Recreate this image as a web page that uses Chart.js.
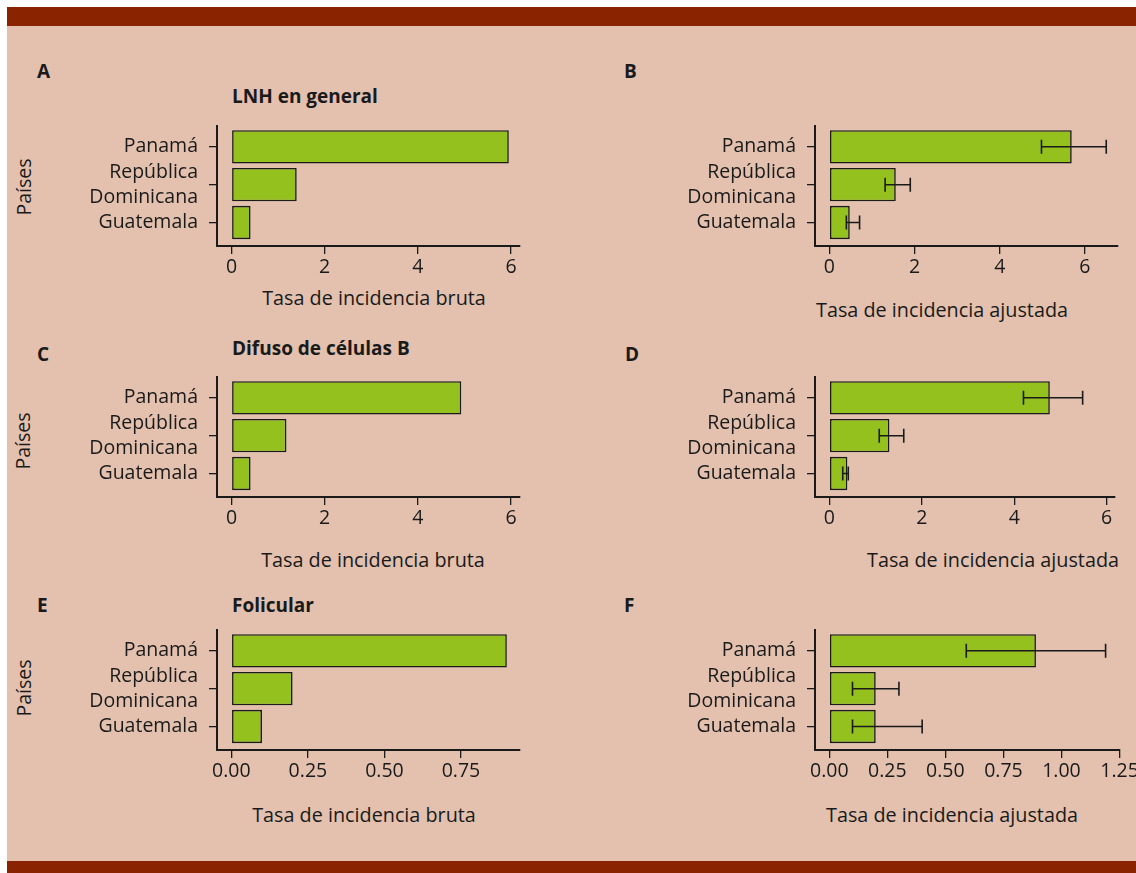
<!DOCTYPE html>
<html lang="es">
<head>
<meta charset="utf-8">
<title>Tasas de incidencia de LNH</title>
<script src="https://cdn.jsdelivr.net/npm/chart.js@4.4.0/dist/chart.umd.min.js"></script>
<style>
  html, body { margin: 0; padding: 0; background: #fff; }
  #fig {
    position: relative; width: 1136px; height: 873px; overflow: hidden;
    font-family: "Open Sans", Lato, sans-serif; color: #1a1a1a;
  }
  #sheet {
    position: absolute; left: 7px; top: 7px; right: 0; bottom: 0;
    background: #e3c1ae;
    border-top: 19px solid #8a2300;
    border-bottom: 12px solid #8a2300;
    box-sizing: border-box;
  }
  .txt {
    position: absolute; white-space: nowrap; line-height: 1;
    font-size: 19.8px; transform: translate(-50%, -50%);
  }
  .lbl { transform: translate(0, -50%); font-weight: 700; font-size: 19px; }
  .rot { transform: translate(-50%, -50%) rotate(-90deg); font-size: 19.5px; }
  canvas { position: absolute; }
</style>
</head>
<body>
<div id="fig">
  <div id="sheet"></div>
</div>
<script>
// countries, top to bottom
const paises = ['Panamá', ['República', 'Dominicana'], 'Guatemala'];

// LNH en general
const brutaGeneral = [5.95, 1.40, 0.41];
const ajustadaGeneral = [5.69, 1.56, 0.48];
const ajustadaGeneralLo = [4.98, 1.31, 0.40];
const ajustadaGeneralHi = [6.50, 1.90, 0.71];

// Difuso de células B
const brutaDifuso = [4.93, 1.18, 0.41];
const ajustadaDifuso = [4.77, 1.30, 0.39];
const ajustadaDifusoLo = [4.20, 1.08, 0.29];
const ajustadaDifusoHi = [5.48, 1.61, 0.41];

// Folicular
const brutaFolicular = [0.90, 0.20, 0.10];
const ajustadaFolicular = [0.89, 0.20, 0.20];
const ajustadaFolicularLo = [0.59, 0.10, 0.10];
const ajustadaFolicularHi = [1.19, 0.30, 0.40];

// x tick values
const ticksTasa = [0, 2, 4, 6];
const ticksFolBruta = [0, 0.25, 0.5, 0.75];
const ticksFolAjustada = [0, 0.25, 0.5, 0.75, 1, 1.25];

const GREEN = '#95c11f';
const INK = '#1a1a1a';
const FONT = { family: '"Open Sans", Lato, sans-serif', size: 19.5 };

// area = [left, top, right, bottom] of each plot panel
const panels = [
  { area: [217, 126, 520, 246], range: [-0.31, 6.19], ticks: ticksTasa, dec: 0, values: brutaGeneral },
  { area: [815, 126, 1118, 246], range: [-0.336, 6.776], ticks: ticksTasa, dec: 0, values: ajustadaGeneral, lo: ajustadaGeneralLo, hi: ajustadaGeneralHi },
  { area: [217, 377, 520, 497], range: [-0.31, 6.19], ticks: ticksTasa, dec: 0, values: brutaDifuso },
  { area: [815, 377, 1115, 497], range: [-0.31, 6.18], ticks: ticksTasa, dec: 0, values: ajustadaDifuso, lo: ajustadaDifusoLo, hi: ajustadaDifusoHi },
  { area: [217, 630, 520, 750], range: [-0.047, 0.943], ticks: ticksFolBruta, dec: 2, values: brutaFolicular },
  { area: [815, 630, 1120, 750], range: [-0.0615, 1.252], ticks: ticksFolAjustada, dec: 2, values: ajustadaFolicular, lo: ajustadaFolicularLo, hi: ajustadaFolicularHi }
];

// text around the panels: [text, x, y, class]
const texts = [
  ['A', 37, 71, 'lbl'], ['B', 624, 71, 'lbl'], ['C', 37, 354, 'lbl'],
  ['D', 625, 354, 'lbl'], ['E', 37, 605, 'lbl'], ['F', 624, 605, 'lbl'],
  ['LNH en general', 232, 96, 'lbl'],
  ['Difuso de células B', 232, 348, 'lbl'],
  ['Folicular', 232, 605, 'lbl'],
  ['Tasa de incidencia bruta', 374, 298, ''],
  ['Tasa de incidencia ajustada', 942, 310, ''],
  ['Tasa de incidencia bruta', 373, 560, ''],
  ['Tasa de incidencia ajustada', 993, 560, ''],
  ['Tasa de incidencia bruta', 364, 815, ''],
  ['Tasa de incidencia ajustada', 952, 815, ''],
  ['Países', 24, 187, 'rot'], ['Países', 23, 441, 'rot'], ['Países', 24, 688, 'rot']
];

const fig = document.getElementById('fig');

texts.forEach(([s, x, y, cls]) => {
  const d = document.createElement('div');
  d.className = 'txt ' + cls;
  d.textContent = s;
  d.style.left = x + 'px';
  d.style.top = y + 'px';
  fig.appendChild(d);
});

function errorBars(lo, hi) {
  return {
    id: 'errorBars',
    afterDatasetsDraw(chart) {
      if (!lo) return;
      const { ctx, scales: { x, y } } = chart;
      ctx.save();
      ctx.strokeStyle = INK;
      ctx.lineWidth = 1.6;
      lo.forEach((v, i) => {
        const yc = y.getPixelForValue(i);
        const x1 = x.getPixelForValue(v);
        const x2 = x.getPixelForValue(hi[i]);
        ctx.beginPath();
        ctx.moveTo(x1, yc); ctx.lineTo(x2, yc);
        ctx.moveTo(x1, yc - 7); ctx.lineTo(x1, yc + 7);
        ctx.moveTo(x2, yc - 7); ctx.lineTo(x2, yc + 7);
        ctx.stroke();
      });
      ctx.restore();
    }
  };
}

function buildPanel(p) {
  const [l, t, r, b] = p.area;
  const padTop = 40;
  const left = l - 190, top = t - padTop;
  const w = r + 30 - left, h = b + 46 - top;
  const canvas = document.createElement('canvas');
  canvas.width = w;
  canvas.height = h;
  canvas.style.left = left + 'px';
  canvas.style.top = top + 'px';
  canvas.style.width = w + 'px';
  canvas.style.height = h + 'px';
  fig.appendChild(canvas);

  // rows sit on a numeric axis (0 = Panamá at the top) so the
  // padding above and below the bars can be set like ggplot's
  new Chart(canvas, {
    type: 'bar',
    data: {
      datasets: [{
        data: p.values.map((v, i) => ({ x: v, y: i })),
        backgroundColor: GREEN,
        borderColor: INK,
        borderWidth: 1.6,
        borderSkipped: false,
        barPercentage: 0.88,
        categoryPercentage: 1
      }]
    },
    options: {
      indexAxis: 'y',
      responsive: false,
      animation: false,
      events: [],
      layout: { padding: { top: padTop, right: 30, left: 0, bottom: 0 } },
      plugins: { legend: { display: false }, tooltip: { enabled: false } },
      scales: {
        y: {
          type: 'linear',
          reverse: true,
          offset: false,
          min: -0.55,
          max: 2.62,
          afterFit: s => { s.width = 190; },
          afterBuildTicks: s => { s.ticks = paises.map((_, i) => ({ value: i })); },
          grid: { offset: false, drawOnChartArea: false, drawTicks: true, tickLength: 8, color: INK, lineWidth: 1.3 },
          border: { display: true, color: INK, width: 2 },
          ticks: { color: INK, font: { ...FONT, lineHeight: 1.28 }, padding: 11, autoSkip: false, callback: v => paises[v] }
        },
        x: {
          type: 'linear',
          min: p.range[0],
          max: p.range[1],
          afterFit: s => { s.height = 46; },
          afterBuildTicks: s => { s.ticks = p.ticks.map(v => ({ value: v })); },
          grid: { drawOnChartArea: false, drawTicks: true, tickLength: 8, color: INK, lineWidth: 1.3 },
          border: { display: true, color: INK, width: 2 },
          ticks: { color: INK, font: FONT, padding: 2, maxRotation: 0, autoSkip: false, callback: v => v.toFixed(p.dec) }
        }
      }
    },
    plugins: [errorBars(p.lo, p.hi)]
  });
}

panels.forEach(buildPanel);
</script>
</body>
</html>
